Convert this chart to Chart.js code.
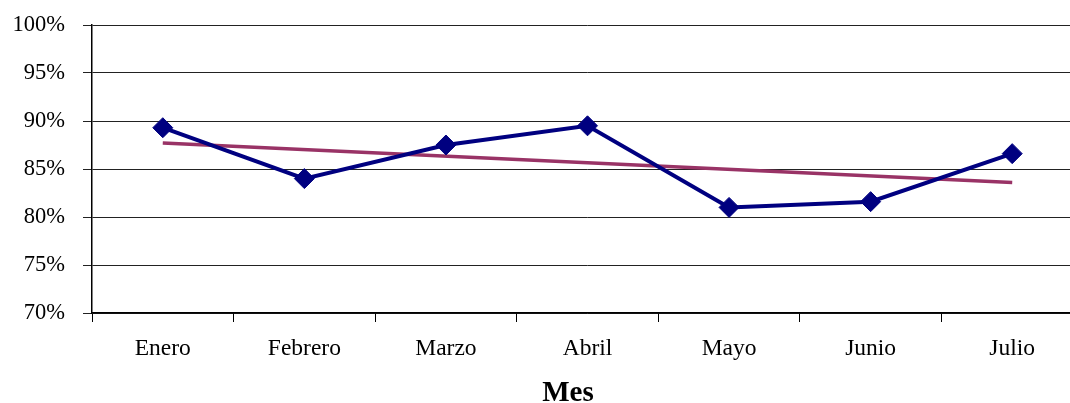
<!DOCTYPE html>
<html>
<head>
<meta charset="utf-8">
<script src="https://cdn.jsdelivr.net/npm/chart.js@4"></script>
<style>
  html, body { margin: 0; padding: 0; background: #fff; overflow: hidden; }
</style>
</head>
<body>
<!-- the plot runs a little past the right edge of the window -->
<canvas id="chart" width="1094" height="403"></canvas>
<script>
const months = ['Enero', 'Febrero', 'Marzo', 'Abril', 'Mayo', 'Junio', 'Julio'];
const monthlyRate = [89.3, 84.0, 87.5, 89.5, 81.0, 81.6, 86.6];
// linear trend, only the two end points are drawn (gap spanned)
const trendRate = [87.7, null, null, null, null, null, 83.6];
const yMin = 70;
const yMax = 100;
const yStep = 5;
const xTitle = 'Mes';

const serif = 'Liberation Serif, Times New Roman, serif';

// axis title, centred under the visible part of the plot
const axisTitle = {
    id: 'axisTitle',
    afterDraw(chart) {
        const ctx = chart.ctx;
        const x = chart.chartArea.left + 476;
        ctx.save();
        ctx.font = 'bold 29px ' + serif;
        ctx.fillStyle = '#000';
        ctx.textAlign = 'center';
        ctx.textBaseline = 'alphabetic';
        ctx.fillText(xTitle, x, 401);
        ctx.restore();
    }
};

new Chart(document.getElementById('chart'), {
    type: 'line',
    data: {
        labels: months,
        datasets: [{
            label: 'Mensual',
            data: monthlyRate,
            borderColor: '#000080',
            backgroundColor: '#000080',
            borderWidth: 4,
            pointStyle: 'rectRot',
            pointRadius: 10,
            pointBorderWidth: 1,
            tension: 0
        },
        {
            label: 'Tendencia',
            data: trendRate,
            borderColor: '#993366',
            borderWidth: 3.5,
            pointRadius: 0,
            spanGaps: true,
            tension: 0
        }]
    },
    options: {
        responsive: false,
        animation: false,
        layout: {
            padding: { top: 25, right: 0, bottom: 0, left: 0 }
        },
        plugins: {
            legend: { display: false },
            tooltip: { enabled: false }
        },
        scales: {
            y: {
                min: yMin,
                max: yMax,
                afterFit: axis => {
                    axis.width = 92;
                    axis.paddingTop = 0;
                    axis.paddingBottom = 0;
                },
                ticks: {
                    stepSize: yStep,
                    padding: 18,
                    color: '#000',
                    font: { family: serif, size: 22.5 },
                    callback: v => v + '%'
                },
                grid: {
                    color: '#222',
                    lineWidth: 1,
                    tickLength: 9
                },
                border: { color: '#000', width: 1.5 }
            },
            x: {
                offset: true,
                afterFit: axis => {
                    axis.height = 90;
                    axis.paddingLeft = 0;
                    axis.paddingRight = 0;
                },
                ticks: {
                    padding: 13,
                    color: '#000',
                    font: { family: serif, size: 23.5 }
                },
                grid: {
                    offset: true,
                    drawOnChartArea: false,
                    // the closing line at the right end has no tick context: leave it out
                    color: ctx => ctx.tick ? '#000' : 'rgba(0,0,0,0)',
                    tickLength: 9
                },
                border: { color: '#000', width: 1.5 }
            }
        }
    },
    plugins: [axisTitle]
});
</script>
</body>
</html>
